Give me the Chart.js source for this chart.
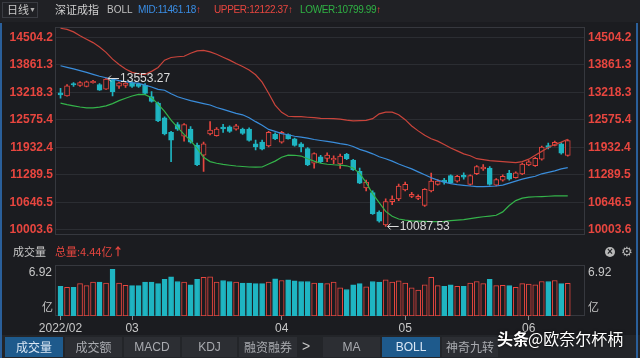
<!DOCTYPE html>
<html>
<head>
<meta charset="utf-8">
<script src="https://cdn.jsdelivr.net/npm/chart.js@4.4.0/dist/chart.umd.min.js"></script>
<style>
html, body { margin: 0; padding: 0; background: #1b1c20; width: 640px; height: 358px; overflow: hidden; }
#wrap { position: relative; width: 640px; height: 358px; font-family: "Liberation Sans", Arial, "Noto Sans CJK SC", sans-serif; }
canvas { position: absolute; left: 0; }
#mainChart { top: 0; }
#volChart { top: 255px; }
.t { position: absolute; white-space: nowrap; line-height: 1; }
.hv { letter-spacing: -0.35px; }
.cjk { font-family: "Noto Sans CJK SC", sans-serif; }
#header { position: absolute; left: 0; top: 0; width: 640px; height: 22px; background: #202125; }
#dayBox { position: absolute; left: 2px; top: 2px; width: 36px; height: 16px; border: 1px solid #3a3c42; box-sizing: border-box; }
#tabs { position: absolute; left: 0; top: 335px; width: 640px; height: 23px; background: #232529; }
.tab { position: absolute; top: 337px; height: 20px; background: #2c2e33; color: #a9abb0; font-size: 12px; text-align: center; line-height: 20px; }
.tab.on { background: #1e5a8c; color: #d9e7f5; }
.edge { position: absolute; top: 23px; width: 2px; height: 335px; background: #2a5f9a; }
</style>
</head>
<body>
<div id="wrap">
  <div id="header"></div>
  <div id="dayBox"></div>
  <canvas id="mainChart" width="640" height="245"></canvas>
  <canvas id="volChart" width="640" height="80"></canvas>

  <div class="t cjk" style="left:7px;top:4px;font-size:11px;color:#c8c8c8;">日线</div>
  <div class="t" style="left:29px;top:6px;font-size:7px;color:#b0b0b0;">▼</div>
  <div class="t cjk" style="left:55px;top:4px;font-size:11px;color:#d0d0d0;">深证成指</div>
  <div class="t" style="left:107px;top:5px;font-size:10px;color:#c0c0c0;">BOLL</div>
  <div class="t hv" id="midTxt" style="left:138px;top:5px;font-size:10px;color:#3a8ee6;"></div>
  <div class="t hv" id="upTxt" style="left:214px;top:5px;font-size:10px;color:#e8463f;"></div>
  <div class="t hv" id="lowTxt" style="left:300px;top:5px;font-size:10px;color:#2fb344;"></div>

  <div class="t cjk" style="left:13px;top:246px;font-size:11px;color:#c8c8c8;">成交量</div>
  <div class="t cjk" id="volTxt" style="left:55px;top:246px;font-size:11px;color:#e8463f;"></div>
  <div class="t" style="left:605px;top:247px;width:10px;height:10px;border-radius:5px;background:#b8b8b8;color:#1b1c20;font-size:10px;line-height:10px;text-align:center;font-weight:bold;">×</div>
  <div class="t" style="left:621px;top:245px;font-size:13px;color:#b8b8b8;font-family:'DejaVu Sans';">⚙</div>
  <div class="t cjk" style="left:42px;top:301px;font-size:11px;color:#c8c8c8;">亿</div>
  <div class="t cjk" style="left:588px;top:301px;font-size:11px;color:#c8c8c8;">亿</div>

  <div id="tabs"></div>
  <div class="tab on cjk" style="left:5px;width:58px;">成交量</div>
  <div class="tab cjk" style="left:65px;width:57px;">成交额</div>
  <div class="tab" style="left:124px;width:56px;">MACD</div>
  <div class="tab" style="left:182px;width:55px;">KDJ</div>
  <div class="tab cjk" style="left:239px;width:58px;">融资融券</div>
  <div class="t" style="left:302px;top:339px;font-size:14px;color:#c8c8c8;">&gt;</div>
  <div class="tab" style="left:323px;width:57px;">MA</div>
  <div class="tab on" style="left:382px;width:58px;">BOLL</div>
  <div class="tab cjk" style="left:442px;width:56px;">神奇九转</div>

  <div class="t cjk" style="left:497px;top:330px;font-size:16px;color:#fff;font-weight:bold;text-shadow:0 0 3px #000;">头条</div>
  <div class="t cjk" style="left:528px;top:330px;font-size:16px;color:#fff;text-shadow:0 0 3px #000;">@欧奈尔杯柄</div>

  <div class="edge" style="left:0;"></div>
  <div class="edge" style="left:636px;"></div>
</div>

<script>
// Trading days shown (2022)
const dates = [
    '02-14','02-15','02-16','02-17','02-18','02-21','02-22','02-23','02-24','02-25','02-28',
    '03-01','03-02','03-03','03-04','03-07','03-08','03-09','03-10','03-11','03-14','03-15','03-16',
    '03-17','03-18','03-21','03-22','03-23','03-24','03-25','03-28','03-29','03-30','03-31',
    '04-01','04-06','04-07','04-08','04-11','04-12','04-13','04-14','04-15','04-18','04-19','04-20',
    '04-21','04-22','04-25','04-26','04-27','04-28','04-29',
    '05-05','05-06','05-09','05-10','05-11','05-12','05-13','05-16','05-17','05-18','05-19','05-20',
    '05-23','05-24','05-25','05-26','05-27','05-30','05-31',
    '06-01','06-02','06-06','06-07','06-08','06-09','06-10'
];

// K-line values (深证成指)
const open = [
    13207, 13134, 13424, 13378, 13355, 13446, 13401, 13294, 13515, 13362, 13378,
    13435, 13412, 13385, 13120, 12968, 12626, 12284, 12466, 12192, 12359, 11987, 11752,
    12245, 12208, 12409, 12413, 12359, 12359, 12359, 12017, 12056, 11964, 12245,
    12056, 12231, 12131, 12017, 11903, 11561, 11714, 11675, 11638, 11547, 11771, 11638,
    11372, 10984, 10877, 10421, 10118, 10665, 10726,
    10938, 10786, 10740, 10574, 10916, 11068, 11167, 11274, 11144, 11280, 11068, 11319,
    11429, 11447, 11052, 11167, 11326, 11223, 11315,
    11524, 11508, 11657, 11976, 11980, 12017, 11747
];
const high = [
    13310, 13400, 13446, 13469, 13480, 13500, 13424, 13553.27, 13526, 13458, 13446,
    13469, 13435, 13424, 13234, 12990, 12648, 12306, 12512, 12489, 12420, 12033, 12056,
    12534, 12397, 12473, 12436, 12473, 12382, 12392, 12101, 12101, 12306, 12272,
    12306, 12249, 12147, 12044, 11930, 11805, 11748, 11805, 11736, 11775, 11794, 11656,
    11447, 11166, 10916, 10448, 10733, 10802, 11075,
    11121, 10882, 10824, 10972, 11333, 11178, 11212, 11292, 11280, 11337, 11292, 11508,
    11531, 11486, 11201, 11292, 11394, 11360, 11565,
    11622, 11702, 11964, 12033, 12078, 12044, 12112
];
const low = [
    13082, 13128, 13355, 13355, 13344, 13435, 13264, 13287, 13134, 13310, 13332,
    13332, 13332, 13173, 12990, 12534, 12226, 11600, 12329, 12078, 12033, 11508, 11372,
    12226, 12192, 12284, 12284, 12336, 12238, 12078, 11873, 11873, 11942, 12113,
    12033, 12124, 11958, 11828, 11508, 11447, 11577, 11600, 11554, 11440, 11645, 11395,
    11087, 10916, 10368, 10186, 10087.53, 10596, 10688,
    10916, 10756, 10710, 10551, 10893, 11052, 11075, 11087, 11121, 11189, 11052, 11296,
    11395, 11052, 11030, 11144, 11167, 11212, 11292,
    11508, 11486, 11634, 11896, 11964, 11771, 11725
];
const close = [
    13161, 13371, 13390, 13446, 13462, 13476, 13271, 13526, 13234, 13439, 13435,
    13355, 13355, 13196, 13006, 12550, 12245, 12101, 12359, 12466, 12056, 11531, 12018,
    12336, 12359, 12364, 12306, 12436, 12261, 12094, 11942, 11889, 12284, 12131,
    12284, 12131, 11980, 11942, 11524, 11789, 11600, 11752, 11675, 11730, 11668, 11410,
    11098, 11121, 10384, 10209, 10665, 10722, 11030,
    11068, 10836, 10790, 10954, 11144, 11144, 11121, 11105, 11258, 11235, 11274, 11486,
    11474, 11068, 11178, 11258, 11189, 11337, 11543,
    11593, 11675, 11942, 11930, 12049, 11798, 12090
];

// BOLL bands
const upper = [
    14716, 14689, 14632, 14541, 14461, 14381, 14279, 14153, 13994, 13868, 13766,
    13686, 13652, 13636, 13709, 13800, 13971, 14033, 14051, 14062, 14131, 14188, 14199,
    14165, 14108, 14040, 13971, 13891, 13823, 13743, 13629, 13458, 13196, 12922,
    12751, 12660, 12649, 12649, 12637, 12626, 12610, 12607, 12603, 12592, 12569, 12550,
    12557, 12562, 12603, 12717, 12756, 12756, 12694,
    12580, 12432, 12318, 12215, 12135, 12078, 11999, 11919, 11850, 11782, 11736, 11668,
    11645, 11622, 11611, 11600, 11588, 11577, 11600,
    11657, 11748, 11839, 11930, 11999, 12056, 12122.37
];
const mid = [
    13841, 13804, 13766, 13727, 13686, 13640, 13595, 13560, 13526, 13492, 13469,
    13446, 13428, 13389, 13344, 13287, 13268, 13184, 13116, 13070, 13025, 12990, 12956,
    12922, 12865, 12819, 12774, 12728, 12694, 12626, 12534, 12448, 12352, 12306,
    12254, 12227, 12192, 12170, 12147, 12117, 12094, 12071, 12049, 12021, 11999, 11953,
    11885, 11839, 11782, 11714, 11668, 11611, 11543,
    11486, 11429, 11360, 11292, 11224, 11166, 11121, 11087, 11064, 11046, 11030, 11014,
    11014, 11023, 11030, 11052, 11098, 11144, 11189,
    11224, 11258, 11315, 11349, 11383, 11429, 11461.18
];
const lower = [
    12968, 12933, 12904, 12876, 12854, 12854, 12872, 12904, 12956, 13025, 13082,
    13134, 13173, 13166, 13093, 12945, 12774, 12569, 12398, 12238, 12090, 11908, 11702,
    11600, 11561, 11536, 11515, 11497, 11486, 11474, 11470, 11474, 11543, 11611,
    11702, 11752, 11748, 11730, 11668, 11611, 11561, 11538, 11527, 11520, 11502, 11452,
    11326, 11110, 10847, 10642, 10437, 10323, 10259,
    10232, 10216, 10209, 10202, 10197, 10197, 10204, 10220, 10232, 10243, 10266, 10289,
    10311, 10327, 10346, 10425, 10574, 10688, 10745,
    10768, 10779, 10783, 10790, 10797, 10802, 10799.99
];

// 成交量 (亿)
const volume = [
    4.05, 3.92, 3.92, 4.40, 4.13, 4.61, 4.61, 4.48, 6.35, 4.48, 4.18,
    4.13, 4.13, 4.61, 4.61, 4.40, 5.00, 5.35, 4.70, 4.61, 4.26, 5.00, 5.27,
    5.35, 4.61, 4.83, 4.70, 4.61, 4.48, 4.48, 4.40, 4.40, 4.61, 5.05,
    4.83, 4.92, 4.79, 4.70, 4.70, 4.48, 4.48, 4.40, 4.61, 3.83, 3.61, 4.26,
    4.40, 3.96, 4.70, 4.61, 4.92, 4.61, 4.79,
    4.48, 3.83, 3.52, 4.26, 5.27, 4.13, 4.05, 4.26, 4.05, 4.05, 4.48, 4.70,
    4.40, 5.00, 4.13, 4.18, 4.13, 3.92, 4.40,
    4.35, 4.26, 4.70, 4.70, 4.83, 4.40, 4.44
];

const priceTicks = [10003.6, 10646.5, 11289.5, 11932.4, 12575.4, 13218.3, 13861.3, 14504.2];
const volMax = 6.92;

const RED = '#e8463f';
const CYAN = '#1fb5c2';
const BG = '#1b1c20';
const GRID = '#2b2d32';
const FRAME = '#36383e';

const up = close.map((c, i) => c >= open[i]);
const candleColor = up.map(u => u ? RED : CYAN);
const bodyFill = up.map(u => u ? BG : CYAN);

// first trading day of each month -> x ticks
const monthStarts = dates.map((d, i) => i).filter(i => i === 0 || dates[i].slice(0, 2) !== dates[i - 1].slice(0, 2));

const xMin = -0.85, xMax = 80.65;

// header texts
const last = close.length - 1;
document.getElementById('midTxt').innerHTML = 'MID:' + mid[last].toFixed(2) + '<span style="color:#e8463f;font-weight:bold">↑</span>';
document.getElementById('upTxt').innerHTML = 'UPPER:' + upper[last].toFixed(2) + '<span style="font-weight:bold">↑</span>';
document.getElementById('lowTxt').innerHTML = 'LOWER:' + lower[last].toFixed(2) + '<span style="color:#e8463f;font-weight:bold">↑</span>';
document.getElementById('volTxt').innerHTML = '总量:' + volume[last].toFixed(2) + '亿<span style="font-weight:bold">↑</span>';

Chart.defaults.font.family = '"Liberation Sans", Arial, sans-serif';

const frame = {
    id: 'frame',
    beforeDatasetsDraw(chart) {
        const a = chart.chartArea;
        const ctx = chart.ctx;
        ctx.save();
        ctx.strokeStyle = FRAME;
        ctx.lineWidth = 1;
        ctx.strokeRect(Math.round(a.left) + 0.5, Math.round(a.top) + 0.5, Math.round(a.right - a.left) - 1, Math.round(a.bottom - a.top) - 1);
        ctx.restore();
    }
};

// highest high / lowest low markers
const extremes = {
    id: 'extremes',
    afterDatasetsDraw(chart) {
        const ctx = chart.ctx;
        const x = chart.scales.x, y = chart.scales.y;
        const hi = high.indexOf(Math.max(...high));
        const lo = low.indexOf(Math.min(...low));
        ctx.save();
        ctx.font = '12px "Liberation Sans"';
        ctx.fillStyle = '#dcdcdc';
        ctx.strokeStyle = '#dcdcdc';
        ctx.lineWidth = 1;
        ctx.textBaseline = 'middle';
        [[hi, high[hi]], [lo, low[lo]]].forEach(([i, v]) => {
            const px = x.getPixelForValue(i) + 2;
            const py = Math.round(y.getPixelForValue(v)) + 0.5;
            ctx.beginPath();
            ctx.moveTo(px, py);
            ctx.lineTo(px + 11, py);
            ctx.moveTo(px + 3, py - 3);
            ctx.lineTo(px, py);
            ctx.lineTo(px + 3, py + 3);
            ctx.stroke();
            ctx.fillText(v.toFixed(2), px + 12, py + 0.5);
        });
        ctx.restore();
    }
};

const priceAxis = (pos, pad) => ({
    position: pos,
    min: 9889.6,
    max: 14745.7,
    afterBuildTicks: s => { s.ticks = priceTicks.map(v => ({ value: v })); },
    afterFit: s => { s.width = 55; },
    grid: { display: pos === 'left', color: GRID, drawTicks: false },
    border: { display: false },
    ticks: {
        color: RED,
        padding: pad,
        font: { size: 12, weight: 'bold' },
        callback: v => v.toFixed(1)
    }
});

new Chart(document.getElementById('mainChart'), {
    type: 'bar',
    data: {
        datasets: [
            {
                type: 'line',
                data: upper.map((v, i) => ({ x: i, y: v })),
                borderColor: '#c9443b',
                borderWidth: 1.2,
                pointRadius: 0,
                order: 0
            },
            {
                type: 'line',
                data: mid.map((v, i) => ({ x: i, y: v })),
                borderColor: '#3a8ddb',
                borderWidth: 1.2,
                pointRadius: 0,
                order: 0
            },
            {
                type: 'line',
                data: lower.map((v, i) => ({ x: i, y: v })),
                borderColor: '#34b34a',
                borderWidth: 1.2,
                pointRadius: 0,
                order: 0
            },
            {
                data: open.map((o, i) => ({ x: i, y: [o, close[i]] })),
                backgroundColor: bodyFill,
                borderColor: candleColor,
                borderWidth: 1,
                borderSkipped: false,
                barThickness: 5,
                grouped: false,
                order: 1
            },
            {
                data: low.map((l, i) => ({ x: i, y: [l, high[i]] })),
                backgroundColor: candleColor,
                barThickness: 1,
                grouped: false,
                order: 2
            }
        ]
    },
    options: {
        responsive: false,
        animation: false,
        events: [],
        layout: { padding: { top: 27, bottom: 5, left: 0, right: 0 } },
        plugins: { legend: { display: false }, tooltip: { enabled: false } },
        scales: {
            x: { type: 'linear', min: xMin, max: xMax, offset: false, grid: { offset: false }, display: false },
            y: priceAxis('left', 2),
            y2: priceAxis('right', 3)
        }
    },
    plugins: [frame, extremes]
});

const volAxis = (pos) => ({
    position: pos,
    min: 0,
    max: volMax,
    afterBuildTicks: s => { s.ticks = [{ value: volMax }]; },
    afterFit: s => { s.width = 55; },
    grid: { display: false, drawTicks: false },
    border: { display: false },
    ticks: {
        color: '#c8c8c8',
        padding: 3,
        labelOffset: 7,
        font: { size: 12 },
        callback: v => v.toFixed(2)
    }
});

new Chart(document.getElementById('volChart'), {
    type: 'bar',
    data: {
        datasets: [{
            data: volume.map((v, i) => ({ x: i, y: v })),
            backgroundColor: bodyFill,
            borderColor: candleColor,
            borderWidth: 1,
            borderSkipped: false,
            barThickness: 5,
            grouped: false
        }]
    },
    options: {
        responsive: false,
        animation: false,
        events: [],
        layout: { padding: { top: 8, bottom: 0, left: 0, right: 0 } },
        plugins: { legend: { display: false }, tooltip: { enabled: false } },
        scales: {
            x: {
                type: 'linear',
                min: xMin,
                max: xMax,
                offset: false,
                afterBuildTicks: s => { s.ticks = monthStarts.map(i => ({ value: i })); },
                afterFit: s => { s.height = 19; },
                grid: { offset: false, drawOnChartArea: false, drawTicks: true, tickLength: 4, color: '#8a8c90' },
                border: { display: false },
                ticks: {
                    color: '#c8c8c8',
                    padding: 1,
                    maxRotation: 0,
                    autoSkip: false,
                    font: { size: 12 },
                    callback: v => v === 0 ? '2022/' + dates[0].slice(0, 2) : dates[v].slice(0, 2)
                }
            },
            y: volAxis('left'),
            y2: volAxis('right')
        }
    },
    plugins: [frame]
});
</script>
</body>
</html>
